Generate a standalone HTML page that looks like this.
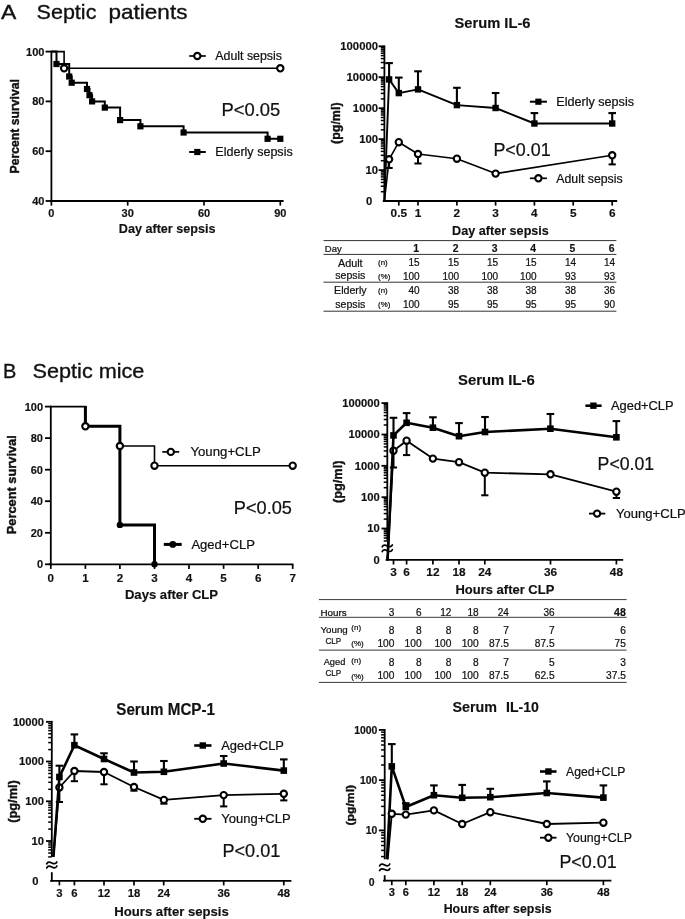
<!DOCTYPE html>
<html><head><meta charset="utf-8"><title>Figure</title>
<style>html,body{margin:0;padding:0;background:#fff}svg{display:block;will-change:transform}text{font-family:"Liberation Sans",sans-serif;fill:#111;stroke:none}</style>
</head><body>
<svg width="685" height="919" viewBox="0 0 685 919" stroke="#000" font-family="Liberation Sans, sans-serif">
<rect x="0" y="0" width="685" height="919" fill="#fff" stroke="none"/>
<text x="1.0" y="19.4" font-size="21" textLength="15.3" lengthAdjust="spacingAndGlyphs" style="stroke:#111;stroke-width:0.35px">A</text>
<text x="36.6" y="19.4" font-size="21" textLength="59.8" lengthAdjust="spacingAndGlyphs" style="stroke:#111;stroke-width:0.35px">Septic</text>
<text x="108.6" y="19.4" font-size="21" textLength="78.8" lengthAdjust="spacingAndGlyphs" style="stroke:#111;stroke-width:0.35px">patients</text>
<text x="2.9" y="378.4" font-size="21" textLength="13.3" lengthAdjust="spacingAndGlyphs" style="stroke:#111;stroke-width:0.35px">B</text>
<text x="32.6" y="378.4" font-size="21" textLength="111.8" lengthAdjust="spacingAndGlyphs" style="stroke:#111;stroke-width:0.35px">Septic mice</text>
<g id="A1">
<line x1="51.4" y1="50.8" x2="51.4" y2="201.8" stroke-width="1.8" stroke-linecap="butt"/>
<line x1="45.6" y1="51.6" x2="51.4" y2="51.6" stroke-width="1.8" stroke-linecap="butt"/>
<text x="44.4" y="55.5" font-size="11.0" font-weight="bold" style="stroke:#111;stroke-width:0.16px" text-anchor="end">100</text>
<line x1="45.6" y1="101.4" x2="51.4" y2="101.4" stroke-width="1.8" stroke-linecap="butt"/>
<text x="44.4" y="105.3" font-size="11.0" font-weight="bold" style="stroke:#111;stroke-width:0.16px" text-anchor="end">80</text>
<line x1="45.6" y1="151.2" x2="51.4" y2="151.2" stroke-width="1.8" stroke-linecap="butt"/>
<text x="44.4" y="155.1" font-size="11.0" font-weight="bold" style="stroke:#111;stroke-width:0.16px" text-anchor="end">60</text>
<line x1="45.6" y1="201.0" x2="51.4" y2="201.0" stroke-width="1.8" stroke-linecap="butt"/>
<text x="44.4" y="204.9" font-size="11.0" font-weight="bold" style="stroke:#111;stroke-width:0.16px" text-anchor="end">40</text>
<line x1="49.8" y1="201.0" x2="283.6" y2="201.0" stroke-width="1.8" stroke-linecap="butt"/>
<line x1="51.4" y1="201.0" x2="51.4" y2="205.6" stroke-width="1.7" stroke-linecap="butt"/>
<text x="51.4" y="216.8" font-size="11.0" font-weight="bold" style="stroke:#111;stroke-width:0.16px" text-anchor="middle">0</text>
<line x1="127.7" y1="201.0" x2="127.7" y2="205.6" stroke-width="1.7" stroke-linecap="butt"/>
<text x="127.7" y="216.8" font-size="11.0" font-weight="bold" style="stroke:#111;stroke-width:0.16px" text-anchor="middle">30</text>
<line x1="204.0" y1="201.0" x2="204.0" y2="205.6" stroke-width="1.7" stroke-linecap="butt"/>
<text x="204.0" y="216.8" font-size="11.0" font-weight="bold" style="stroke:#111;stroke-width:0.16px" text-anchor="middle">60</text>
<line x1="280.3" y1="201.0" x2="280.3" y2="205.6" stroke-width="1.7" stroke-linecap="butt"/>
<text x="280.3" y="216.8" font-size="11.0" font-weight="bold" style="stroke:#111;stroke-width:0.16px" text-anchor="middle">90</text>
<text x="19.0" y="126.3" font-size="12.2" font-weight="bold" style="stroke:#111;stroke-width:0.4px" text-anchor="middle" textLength="94.3" lengthAdjust="spacingAndGlyphs" transform="rotate(-90 19.0 126.3)">Percent survival</text>
<text x="118.8" y="233.2" font-size="12.7" font-weight="bold" style="stroke:#111;stroke-width:0.16px" textLength="96.7" lengthAdjust="spacingAndGlyphs">Day after sepsis</text>
<polyline points="51.4,51.6 64.1,51.6 64.1,68.3 280.3,68.3" fill="none" stroke-width="1.6" stroke-linejoin="miter"/>
<polyline points="51.4,51.6 56.5,51.6 56.5,64.0 69.2,64.0 69.2,76.5 71.7,76.5 71.7,82.7 87.0,82.7 87.0,89.0 89.5,89.0 89.5,95.2 92.1,95.2 92.1,101.4 104.8,101.4 104.8,107.6 120.1,107.6 120.1,120.1 140.4,120.1 140.4,126.3 183.6,126.3 183.6,132.5 267.6,132.5 267.6,138.8 280.3,138.8" fill="none" stroke-width="2.0" stroke-linejoin="miter"/>
<rect x="53.4" y="60.9" width="6.2" height="6.2" fill="#000" stroke="none"/>
<rect x="66.1" y="73.4" width="6.2" height="6.2" fill="#000" stroke="none"/>
<rect x="68.6" y="79.6" width="6.2" height="6.2" fill="#000" stroke="none"/>
<rect x="83.9" y="85.9" width="6.2" height="6.2" fill="#000" stroke="none"/>
<rect x="86.4" y="92.1" width="6.2" height="6.2" fill="#000" stroke="none"/>
<rect x="89.0" y="98.3" width="6.2" height="6.2" fill="#000" stroke="none"/>
<rect x="101.7" y="104.5" width="6.2" height="6.2" fill="#000" stroke="none"/>
<rect x="117.0" y="117.0" width="6.2" height="6.2" fill="#000" stroke="none"/>
<rect x="137.3" y="123.2" width="6.2" height="6.2" fill="#000" stroke="none"/>
<rect x="180.5" y="129.4" width="6.2" height="6.2" fill="#000" stroke="none"/>
<rect x="264.5" y="135.7" width="6.2" height="6.2" fill="#000" stroke="none"/>
<rect x="277.2" y="135.7" width="6.2" height="6.2" fill="#000" stroke="none"/>
<circle cx="64.1" cy="68.3" r="3.15" fill="#fff" stroke-width="2.1"/>
<circle cx="280.3" cy="68.3" r="3.15" fill="#fff" stroke-width="2.1"/>
<line x1="189.2" y1="56.0" x2="205.8" y2="56.0" stroke-width="1.7" stroke-linecap="butt"/>
<circle cx="197.3" cy="56.0" r="3.15" fill="#fff" stroke-width="2.1"/>
<text x="215.3" y="60.2" font-size="12.4" style="stroke:#111;stroke-width:0.22px" textLength="66.7" lengthAdjust="spacingAndGlyphs">Adult sepsis</text>
<line x1="189.2" y1="152.0" x2="205.8" y2="152.0" stroke-width="2.0" stroke-linecap="butt"/>
<rect x="194.2" y="148.9" width="6.2" height="6.2" fill="#000" stroke="none"/>
<text x="215.3" y="156.3" font-size="12.4" style="stroke:#111;stroke-width:0.22px" textLength="77.4" lengthAdjust="spacingAndGlyphs">Elderly sepsis</text>
<text x="221.5" y="115.6" font-size="18.2" style="stroke:#111;stroke-width:0.22px" textLength="58.8" lengthAdjust="spacingAndGlyphs">P&lt;0.05</text>
</g>
<g id="A2">
<text x="454.5" y="27.9" font-size="15.4" font-weight="bold" style="stroke:#111;stroke-width:0.16px" textLength="76.0" lengthAdjust="spacingAndGlyphs">Serum IL-6</text>
<line x1="384.4" y1="45.4" x2="384.4" y2="201.8" stroke-width="1.8" stroke-linecap="butt"/>
<line x1="378.6" y1="46.3" x2="384.4" y2="46.3" stroke-width="1.8" stroke-linecap="butt"/>
<text x="378.0" y="50.2" font-size="11.3" font-weight="bold" style="stroke:#111;stroke-width:0.16px" text-anchor="end">100000</text>
<line x1="380.8" y1="67.9" x2="384.4" y2="67.9" stroke-width="1.5" stroke-linecap="butt"/>
<line x1="380.8" y1="62.5" x2="384.4" y2="62.5" stroke-width="1.5" stroke-linecap="butt"/>
<line x1="380.8" y1="58.6" x2="384.4" y2="58.6" stroke-width="1.5" stroke-linecap="butt"/>
<line x1="380.8" y1="55.6" x2="384.4" y2="55.6" stroke-width="1.5" stroke-linecap="butt"/>
<line x1="380.8" y1="53.2" x2="384.4" y2="53.2" stroke-width="1.5" stroke-linecap="butt"/>
<line x1="380.8" y1="51.1" x2="384.4" y2="51.1" stroke-width="1.5" stroke-linecap="butt"/>
<line x1="380.8" y1="49.3" x2="384.4" y2="49.3" stroke-width="1.5" stroke-linecap="butt"/>
<line x1="380.8" y1="47.7" x2="384.4" y2="47.7" stroke-width="1.5" stroke-linecap="butt"/>
<line x1="378.6" y1="77.2" x2="384.4" y2="77.2" stroke-width="1.8" stroke-linecap="butt"/>
<text x="378.0" y="81.1" font-size="11.3" font-weight="bold" style="stroke:#111;stroke-width:0.16px" text-anchor="end">10000</text>
<line x1="380.8" y1="98.9" x2="384.4" y2="98.9" stroke-width="1.5" stroke-linecap="butt"/>
<line x1="380.8" y1="93.4" x2="384.4" y2="93.4" stroke-width="1.5" stroke-linecap="butt"/>
<line x1="380.8" y1="89.6" x2="384.4" y2="89.6" stroke-width="1.5" stroke-linecap="butt"/>
<line x1="380.8" y1="86.6" x2="384.4" y2="86.6" stroke-width="1.5" stroke-linecap="butt"/>
<line x1="380.8" y1="84.1" x2="384.4" y2="84.1" stroke-width="1.5" stroke-linecap="butt"/>
<line x1="380.8" y1="82.0" x2="384.4" y2="82.0" stroke-width="1.5" stroke-linecap="butt"/>
<line x1="380.8" y1="80.2" x2="384.4" y2="80.2" stroke-width="1.5" stroke-linecap="butt"/>
<line x1="380.8" y1="78.7" x2="384.4" y2="78.7" stroke-width="1.5" stroke-linecap="butt"/>
<line x1="378.6" y1="108.2" x2="384.4" y2="108.2" stroke-width="1.8" stroke-linecap="butt"/>
<text x="378.0" y="112.1" font-size="11.3" font-weight="bold" style="stroke:#111;stroke-width:0.16px" text-anchor="end">1000</text>
<line x1="380.8" y1="129.8" x2="384.4" y2="129.8" stroke-width="1.5" stroke-linecap="butt"/>
<line x1="380.8" y1="124.4" x2="384.4" y2="124.4" stroke-width="1.5" stroke-linecap="butt"/>
<line x1="380.8" y1="120.5" x2="384.4" y2="120.5" stroke-width="1.5" stroke-linecap="butt"/>
<line x1="380.8" y1="117.5" x2="384.4" y2="117.5" stroke-width="1.5" stroke-linecap="butt"/>
<line x1="380.8" y1="115.0" x2="384.4" y2="115.0" stroke-width="1.5" stroke-linecap="butt"/>
<line x1="380.8" y1="113.0" x2="384.4" y2="113.0" stroke-width="1.5" stroke-linecap="butt"/>
<line x1="380.8" y1="111.2" x2="384.4" y2="111.2" stroke-width="1.5" stroke-linecap="butt"/>
<line x1="380.8" y1="109.6" x2="384.4" y2="109.6" stroke-width="1.5" stroke-linecap="butt"/>
<line x1="378.6" y1="139.1" x2="384.4" y2="139.1" stroke-width="1.8" stroke-linecap="butt"/>
<text x="378.0" y="143.0" font-size="11.3" font-weight="bold" style="stroke:#111;stroke-width:0.16px" text-anchor="end">100</text>
<line x1="380.8" y1="160.7" x2="384.4" y2="160.7" stroke-width="1.5" stroke-linecap="butt"/>
<line x1="380.8" y1="155.3" x2="384.4" y2="155.3" stroke-width="1.5" stroke-linecap="butt"/>
<line x1="380.8" y1="151.4" x2="384.4" y2="151.4" stroke-width="1.5" stroke-linecap="butt"/>
<line x1="380.8" y1="148.4" x2="384.4" y2="148.4" stroke-width="1.5" stroke-linecap="butt"/>
<line x1="380.8" y1="146.0" x2="384.4" y2="146.0" stroke-width="1.5" stroke-linecap="butt"/>
<line x1="380.8" y1="143.9" x2="384.4" y2="143.9" stroke-width="1.5" stroke-linecap="butt"/>
<line x1="380.8" y1="142.1" x2="384.4" y2="142.1" stroke-width="1.5" stroke-linecap="butt"/>
<line x1="380.8" y1="140.5" x2="384.4" y2="140.5" stroke-width="1.5" stroke-linecap="butt"/>
<line x1="378.6" y1="170.1" x2="384.4" y2="170.1" stroke-width="1.8" stroke-linecap="butt"/>
<text x="378.0" y="174.0" font-size="11.3" font-weight="bold" style="stroke:#111;stroke-width:0.16px" text-anchor="end">10</text>
<line x1="380.8" y1="191.7" x2="384.4" y2="191.7" stroke-width="1.5" stroke-linecap="butt"/>
<line x1="380.8" y1="186.2" x2="384.4" y2="186.2" stroke-width="1.5" stroke-linecap="butt"/>
<line x1="380.8" y1="182.4" x2="384.4" y2="182.4" stroke-width="1.5" stroke-linecap="butt"/>
<line x1="380.8" y1="179.4" x2="384.4" y2="179.4" stroke-width="1.5" stroke-linecap="butt"/>
<line x1="380.8" y1="176.9" x2="384.4" y2="176.9" stroke-width="1.5" stroke-linecap="butt"/>
<line x1="380.8" y1="174.9" x2="384.4" y2="174.9" stroke-width="1.5" stroke-linecap="butt"/>
<line x1="380.8" y1="173.1" x2="384.4" y2="173.1" stroke-width="1.5" stroke-linecap="butt"/>
<line x1="380.8" y1="171.5" x2="384.4" y2="171.5" stroke-width="1.5" stroke-linecap="butt"/>
<text x="372.3" y="204.9" font-size="11.3" font-weight="bold" style="stroke:#111;stroke-width:0.16px" text-anchor="end">0</text>
<line x1="382.8" y1="201.0" x2="617.2" y2="201.0" stroke-width="1.8" stroke-linecap="butt"/>
<line x1="398.8" y1="201.0" x2="398.8" y2="205.6" stroke-width="1.7" stroke-linecap="butt"/>
<text x="398.8" y="216.5" font-size="11.8" font-weight="bold" style="stroke:#111;stroke-width:0.16px" text-anchor="middle">0.5</text>
<line x1="418.0" y1="201.0" x2="418.0" y2="205.6" stroke-width="1.7" stroke-linecap="butt"/>
<text x="418.0" y="216.5" font-size="11.8" font-weight="bold" style="stroke:#111;stroke-width:0.16px" text-anchor="middle">1</text>
<line x1="456.9" y1="201.0" x2="456.9" y2="205.6" stroke-width="1.7" stroke-linecap="butt"/>
<text x="456.9" y="216.5" font-size="11.8" font-weight="bold" style="stroke:#111;stroke-width:0.16px" text-anchor="middle">2</text>
<line x1="495.6" y1="201.0" x2="495.6" y2="205.6" stroke-width="1.7" stroke-linecap="butt"/>
<text x="495.6" y="216.5" font-size="11.8" font-weight="bold" style="stroke:#111;stroke-width:0.16px" text-anchor="middle">3</text>
<line x1="534.4" y1="201.0" x2="534.4" y2="205.6" stroke-width="1.7" stroke-linecap="butt"/>
<text x="534.4" y="216.5" font-size="11.8" font-weight="bold" style="stroke:#111;stroke-width:0.16px" text-anchor="middle">4</text>
<line x1="573.2" y1="201.0" x2="573.2" y2="205.6" stroke-width="1.7" stroke-linecap="butt"/>
<text x="573.2" y="216.5" font-size="11.8" font-weight="bold" style="stroke:#111;stroke-width:0.16px" text-anchor="middle">5</text>
<line x1="612.2" y1="201.0" x2="612.2" y2="205.6" stroke-width="1.7" stroke-linecap="butt"/>
<text x="612.2" y="216.5" font-size="11.8" font-weight="bold" style="stroke:#111;stroke-width:0.16px" text-anchor="middle">6</text>
<text x="340.5" y="123.2" font-size="12.4" font-weight="bold" style="stroke:#111;stroke-width:0.4px" text-anchor="middle" textLength="41.5" lengthAdjust="spacingAndGlyphs" transform="rotate(-90 340.5 123.2)">(pg/ml)</text>
<text x="452.1" y="235.0" font-size="12.6" font-weight="bold" style="stroke:#111;stroke-width:0.16px" textLength="96.8" lengthAdjust="spacingAndGlyphs">Day after sepsis</text>
<line x1="389.1" y1="159.3" x2="389.1" y2="168.0" stroke-width="2.0" stroke-linecap="butt"/>
<line x1="385.5" y1="168.0" x2="392.7" y2="168.0" stroke-width="2.0" stroke-linecap="butt"/>
<line x1="418.0" y1="154.0" x2="418.0" y2="163.5" stroke-width="2.0" stroke-linecap="butt"/>
<line x1="414.4" y1="163.5" x2="421.6" y2="163.5" stroke-width="2.0" stroke-linecap="butt"/>
<line x1="612.2" y1="155.3" x2="612.2" y2="164.4" stroke-width="2.0" stroke-linecap="butt"/>
<line x1="608.6" y1="164.4" x2="615.8" y2="164.4" stroke-width="2.0" stroke-linecap="butt"/>
<polyline points="384.4,201.0 389.1,159.3 398.8,142.2 418.0,154.0 456.9,158.7 495.6,173.6 612.2,155.3" fill="none" stroke-width="1.6" stroke-linejoin="round"/>
<circle cx="389.1" cy="159.3" r="3.15" fill="#fff" stroke-width="2.1"/>
<circle cx="398.8" cy="142.2" r="3.15" fill="#fff" stroke-width="2.1"/>
<circle cx="418.0" cy="154.0" r="3.15" fill="#fff" stroke-width="2.1"/>
<circle cx="456.9" cy="158.7" r="3.15" fill="#fff" stroke-width="2.1"/>
<circle cx="495.6" cy="173.6" r="3.15" fill="#fff" stroke-width="2.1"/>
<circle cx="612.2" cy="155.3" r="3.15" fill="#fff" stroke-width="2.1"/>
<line x1="389.1" y1="79.4" x2="389.1" y2="63.1" stroke-width="2.1" stroke-linecap="butt"/>
<line x1="385.3" y1="63.1" x2="392.9" y2="63.1" stroke-width="2.1" stroke-linecap="butt"/>
<line x1="398.8" y1="93.1" x2="398.8" y2="77.6" stroke-width="2.1" stroke-linecap="butt"/>
<line x1="395.0" y1="77.6" x2="402.6" y2="77.6" stroke-width="2.1" stroke-linecap="butt"/>
<line x1="418.0" y1="89.4" x2="418.0" y2="71.3" stroke-width="2.1" stroke-linecap="butt"/>
<line x1="414.2" y1="71.3" x2="421.8" y2="71.3" stroke-width="2.1" stroke-linecap="butt"/>
<line x1="456.9" y1="105.1" x2="456.9" y2="87.8" stroke-width="2.1" stroke-linecap="butt"/>
<line x1="453.1" y1="87.8" x2="460.7" y2="87.8" stroke-width="2.1" stroke-linecap="butt"/>
<line x1="495.6" y1="108.0" x2="495.6" y2="93.0" stroke-width="2.1" stroke-linecap="butt"/>
<line x1="491.8" y1="93.0" x2="499.4" y2="93.0" stroke-width="2.1" stroke-linecap="butt"/>
<line x1="534.4" y1="123.5" x2="534.4" y2="113.1" stroke-width="2.1" stroke-linecap="butt"/>
<line x1="530.6" y1="113.1" x2="538.2" y2="113.1" stroke-width="2.1" stroke-linecap="butt"/>
<line x1="612.2" y1="123.5" x2="612.2" y2="113.1" stroke-width="2.1" stroke-linecap="butt"/>
<line x1="608.4" y1="113.1" x2="616.0" y2="113.1" stroke-width="2.1" stroke-linecap="butt"/>
<polyline points="384.4,201.0 389.1,79.4 398.8,93.1 418.0,89.4 456.9,105.1 495.6,108.0 534.4,123.5 612.2,123.5" fill="none" stroke-width="1.9" stroke-linejoin="round"/>
<rect x="385.9" y="76.2" width="6.4" height="6.4" fill="#000" stroke="none"/>
<rect x="395.6" y="89.9" width="6.4" height="6.4" fill="#000" stroke="none"/>
<rect x="414.8" y="86.2" width="6.4" height="6.4" fill="#000" stroke="none"/>
<rect x="453.7" y="101.9" width="6.4" height="6.4" fill="#000" stroke="none"/>
<rect x="492.4" y="104.8" width="6.4" height="6.4" fill="#000" stroke="none"/>
<rect x="531.2" y="120.3" width="6.4" height="6.4" fill="#000" stroke="none"/>
<rect x="609.0" y="120.3" width="6.4" height="6.4" fill="#000" stroke="none"/>
<line x1="529.9" y1="101.7" x2="546.9" y2="101.7" stroke-width="2.0" stroke-linecap="butt"/>
<rect x="535.3" y="98.6" width="6.2" height="6.2" fill="#000" stroke="none"/>
<text x="556.3" y="106.0" font-size="12.4" style="stroke:#111;stroke-width:0.22px" textLength="77.7" lengthAdjust="spacingAndGlyphs">Elderly sepsis</text>
<line x1="529.9" y1="178.3" x2="546.9" y2="178.3" stroke-width="1.7" stroke-linecap="butt"/>
<circle cx="538.4" cy="178.3" r="3.15" fill="#fff" stroke-width="2.1"/>
<text x="556.3" y="182.6" font-size="12.4" style="stroke:#111;stroke-width:0.22px" textLength="66.3" lengthAdjust="spacingAndGlyphs">Adult sepsis</text>
<text x="493.4" y="155.5" font-size="18.2" style="stroke:#111;stroke-width:0.22px" textLength="57.2" lengthAdjust="spacingAndGlyphs">P&lt;0.01</text>
</g>
<g id="TA">
<line x1="323.5" y1="240.6" x2="616.4" y2="240.6" stroke="#333" stroke-width="1.0"/>
<line x1="323.5" y1="254.4" x2="616.4" y2="254.4" stroke="#333" stroke-width="1.0"/>
<line x1="323.5" y1="282.2" x2="616.4" y2="282.2" stroke="#333" stroke-width="1.0"/>
<line x1="323.5" y1="311.2" x2="616.4" y2="311.2" stroke="#333" stroke-width="1.0"/>
<text x="324.8" y="251.6" font-size="9.2" style="stroke:#111;stroke-width:0.22px" textLength="16.9" lengthAdjust="spacingAndGlyphs">Day</text>
<text x="419.0" y="251.6" font-size="10.4" font-weight="bold" style="stroke:#111;stroke-width:0.16px" text-anchor="end">1</text>
<text x="458.6" y="251.6" font-size="10.4" font-weight="bold" style="stroke:#111;stroke-width:0.16px" text-anchor="end">2</text>
<text x="497.5" y="251.6" font-size="10.4" font-weight="bold" style="stroke:#111;stroke-width:0.16px" text-anchor="end">3</text>
<text x="536.0" y="251.6" font-size="10.4" font-weight="bold" style="stroke:#111;stroke-width:0.16px" text-anchor="end">4</text>
<text x="575.4" y="251.6" font-size="10.4" font-weight="bold" style="stroke:#111;stroke-width:0.16px" text-anchor="end">5</text>
<text x="614.5" y="251.6" font-size="10.4" font-weight="bold" style="stroke:#111;stroke-width:0.16px" text-anchor="end">6</text>
<text x="419.6" y="266.4" font-size="10.0" style="stroke:#111;stroke-width:0.22px" text-anchor="end">15</text>
<text x="459.2" y="266.4" font-size="10.0" style="stroke:#111;stroke-width:0.22px" text-anchor="end">15</text>
<text x="498.1" y="266.4" font-size="10.0" style="stroke:#111;stroke-width:0.22px" text-anchor="end">15</text>
<text x="536.6" y="266.4" font-size="10.0" style="stroke:#111;stroke-width:0.22px" text-anchor="end">15</text>
<text x="576.0" y="266.4" font-size="10.0" style="stroke:#111;stroke-width:0.22px" text-anchor="end">14</text>
<text x="615.1" y="266.4" font-size="10.0" style="stroke:#111;stroke-width:0.22px" text-anchor="end">14</text>
<text x="419.6" y="279.7" font-size="10.0" style="stroke:#111;stroke-width:0.22px" text-anchor="end">100</text>
<text x="459.2" y="279.7" font-size="10.0" style="stroke:#111;stroke-width:0.22px" text-anchor="end">100</text>
<text x="498.1" y="279.7" font-size="10.0" style="stroke:#111;stroke-width:0.22px" text-anchor="end">100</text>
<text x="536.6" y="279.7" font-size="10.0" style="stroke:#111;stroke-width:0.22px" text-anchor="end">100</text>
<text x="576.0" y="279.7" font-size="10.0" style="stroke:#111;stroke-width:0.22px" text-anchor="end">93</text>
<text x="615.1" y="279.7" font-size="10.0" style="stroke:#111;stroke-width:0.22px" text-anchor="end">93</text>
<text x="419.6" y="294.4" font-size="10.0" style="stroke:#111;stroke-width:0.22px" text-anchor="end">40</text>
<text x="459.2" y="294.4" font-size="10.0" style="stroke:#111;stroke-width:0.22px" text-anchor="end">38</text>
<text x="498.1" y="294.4" font-size="10.0" style="stroke:#111;stroke-width:0.22px" text-anchor="end">38</text>
<text x="536.6" y="294.4" font-size="10.0" style="stroke:#111;stroke-width:0.22px" text-anchor="end">38</text>
<text x="576.0" y="294.4" font-size="10.0" style="stroke:#111;stroke-width:0.22px" text-anchor="end">38</text>
<text x="615.1" y="294.4" font-size="10.0" style="stroke:#111;stroke-width:0.22px" text-anchor="end">36</text>
<text x="419.6" y="307.8" font-size="10.0" style="stroke:#111;stroke-width:0.22px" text-anchor="end">100</text>
<text x="459.2" y="307.8" font-size="10.0" style="stroke:#111;stroke-width:0.22px" text-anchor="end">95</text>
<text x="498.1" y="307.8" font-size="10.0" style="stroke:#111;stroke-width:0.22px" text-anchor="end">95</text>
<text x="536.6" y="307.8" font-size="10.0" style="stroke:#111;stroke-width:0.22px" text-anchor="end">95</text>
<text x="576.0" y="307.8" font-size="10.0" style="stroke:#111;stroke-width:0.22px" text-anchor="end">95</text>
<text x="615.1" y="307.8" font-size="10.0" style="stroke:#111;stroke-width:0.22px" text-anchor="end">90</text>
<text x="338.0" y="266.9" font-size="10.6" style="stroke:#111;stroke-width:0.22px" textLength="24.6" lengthAdjust="spacingAndGlyphs">Adult</text>
<text x="335.3" y="279.4" font-size="10.6" style="stroke:#111;stroke-width:0.22px" textLength="30.0" lengthAdjust="spacingAndGlyphs">sepsis</text>
<text x="334.1" y="294.4" font-size="10.6" style="stroke:#111;stroke-width:0.22px" textLength="32.5" lengthAdjust="spacingAndGlyphs">Elderly</text>
<text x="335.3" y="307.9" font-size="10.6" style="stroke:#111;stroke-width:0.22px" textLength="30.0" lengthAdjust="spacingAndGlyphs">sepsis</text>
<text x="378.1" y="265.1" font-size="7.9" style="stroke:#111;stroke-width:0.22px">(n)</text>
<text x="378.1" y="278.9" font-size="7.9" style="stroke:#111;stroke-width:0.22px">(%)</text>
<text x="378.1" y="293.1" font-size="7.9" style="stroke:#111;stroke-width:0.22px">(n)</text>
<text x="378.1" y="307.1" font-size="7.9" style="stroke:#111;stroke-width:0.22px">(%)</text>
</g>
<g id="B1">
<line x1="50.8" y1="405.8" x2="50.8" y2="565.1" stroke-width="1.8" stroke-linecap="butt"/>
<line x1="45.0" y1="406.6" x2="50.8" y2="406.6" stroke-width="1.8" stroke-linecap="butt"/>
<text x="43.0" y="410.5" font-size="11.0" font-weight="bold" style="stroke:#111;stroke-width:0.16px" text-anchor="end">100</text>
<line x1="45.0" y1="438.1" x2="50.8" y2="438.1" stroke-width="1.8" stroke-linecap="butt"/>
<text x="43.0" y="442.0" font-size="11.0" font-weight="bold" style="stroke:#111;stroke-width:0.16px" text-anchor="end">80</text>
<line x1="45.0" y1="469.7" x2="50.8" y2="469.7" stroke-width="1.8" stroke-linecap="butt"/>
<text x="43.0" y="473.6" font-size="11.0" font-weight="bold" style="stroke:#111;stroke-width:0.16px" text-anchor="end">60</text>
<line x1="45.0" y1="501.2" x2="50.8" y2="501.2" stroke-width="1.8" stroke-linecap="butt"/>
<text x="43.0" y="505.1" font-size="11.0" font-weight="bold" style="stroke:#111;stroke-width:0.16px" text-anchor="end">40</text>
<line x1="45.0" y1="532.8" x2="50.8" y2="532.8" stroke-width="1.8" stroke-linecap="butt"/>
<text x="43.0" y="536.7" font-size="11.0" font-weight="bold" style="stroke:#111;stroke-width:0.16px" text-anchor="end">20</text>
<line x1="45.0" y1="564.3" x2="50.8" y2="564.3" stroke-width="1.8" stroke-linecap="butt"/>
<text x="43.0" y="568.2" font-size="11.0" font-weight="bold" style="stroke:#111;stroke-width:0.16px" text-anchor="end">0</text>
<line x1="49.2" y1="564.3" x2="293.4" y2="564.3" stroke-width="1.8" stroke-linecap="butt"/>
<line x1="50.8" y1="564.3" x2="50.8" y2="568.9" stroke-width="1.7" stroke-linecap="butt"/>
<text x="50.8" y="581.5" font-size="11.6" font-weight="bold" style="stroke:#111;stroke-width:0.16px" text-anchor="middle">0</text>
<line x1="85.4" y1="564.3" x2="85.4" y2="568.9" stroke-width="1.7" stroke-linecap="butt"/>
<text x="85.4" y="581.5" font-size="11.6" font-weight="bold" style="stroke:#111;stroke-width:0.16px" text-anchor="middle">1</text>
<line x1="119.9" y1="564.3" x2="119.9" y2="568.9" stroke-width="1.7" stroke-linecap="butt"/>
<text x="119.9" y="581.5" font-size="11.6" font-weight="bold" style="stroke:#111;stroke-width:0.16px" text-anchor="middle">2</text>
<line x1="154.5" y1="564.3" x2="154.5" y2="568.9" stroke-width="1.7" stroke-linecap="butt"/>
<text x="154.5" y="581.5" font-size="11.6" font-weight="bold" style="stroke:#111;stroke-width:0.16px" text-anchor="middle">3</text>
<line x1="189.0" y1="564.3" x2="189.0" y2="568.9" stroke-width="1.7" stroke-linecap="butt"/>
<text x="189.0" y="581.5" font-size="11.6" font-weight="bold" style="stroke:#111;stroke-width:0.16px" text-anchor="middle">4</text>
<line x1="223.6" y1="564.3" x2="223.6" y2="568.9" stroke-width="1.7" stroke-linecap="butt"/>
<text x="223.6" y="581.5" font-size="11.6" font-weight="bold" style="stroke:#111;stroke-width:0.16px" text-anchor="middle">5</text>
<line x1="258.2" y1="564.3" x2="258.2" y2="568.9" stroke-width="1.7" stroke-linecap="butt"/>
<text x="258.2" y="581.5" font-size="11.6" font-weight="bold" style="stroke:#111;stroke-width:0.16px" text-anchor="middle">6</text>
<line x1="292.7" y1="564.3" x2="292.7" y2="568.9" stroke-width="1.7" stroke-linecap="butt"/>
<text x="292.7" y="581.5" font-size="11.6" font-weight="bold" style="stroke:#111;stroke-width:0.16px" text-anchor="middle">7</text>
<text x="15.6" y="484.7" font-size="12.2" font-weight="bold" style="stroke:#111;stroke-width:0.4px" text-anchor="middle" textLength="99.0" lengthAdjust="spacingAndGlyphs" transform="rotate(-90 15.6 484.7)">Percent survival</text>
<text x="124.9" y="599.0" font-size="12.7" font-weight="bold" style="stroke:#111;stroke-width:0.16px" textLength="93.2" lengthAdjust="spacingAndGlyphs">Days after CLP</text>
<polyline points="50.8,406.6 85.4,406.6 85.4,426.3 119.9,426.3 119.9,446.0 154.5,446.0 154.5,465.7 292.7,465.7" fill="none" stroke-width="1.6" stroke-linejoin="miter"/>
<polyline points="85.4,405.9 85.4,426.3 119.9,426.3 119.9,524.9 154.5,524.9 154.5,564.3" fill="none" stroke-width="3.0" stroke-linejoin="miter"/>
<circle cx="119.9" cy="524.9" r="3.2" fill="#000" stroke="none"/>
<circle cx="154.5" cy="564.3" r="3.2" fill="#000" stroke="none"/>
<circle cx="85.4" cy="426.3" r="3.15" fill="#fff" stroke-width="2.1"/>
<circle cx="119.9" cy="446.0" r="3.15" fill="#fff" stroke-width="2.1"/>
<circle cx="154.5" cy="465.7" r="3.15" fill="#fff" stroke-width="2.1"/>
<circle cx="292.7" cy="465.7" r="3.15" fill="#fff" stroke-width="2.1"/>
<line x1="162.3" y1="451.9" x2="179.2" y2="451.9" stroke-width="1.7" stroke-linecap="butt"/>
<circle cx="170.8" cy="451.9" r="3.15" fill="#fff" stroke-width="2.1"/>
<text x="190.4" y="455.6" font-size="13" style="stroke:#111;stroke-width:0.22px" textLength="70.4" lengthAdjust="spacingAndGlyphs">Young+CLP</text>
<line x1="163.8" y1="544.4" x2="181.7" y2="544.4" stroke-width="3.0" stroke-linecap="butt"/>
<circle cx="172.8" cy="544.4" r="3.4" fill="#000" stroke="none"/>
<text x="191.4" y="549.0" font-size="13" style="stroke:#111;stroke-width:0.22px" textLength="63.5" lengthAdjust="spacingAndGlyphs">Aged+CLP</text>
<text x="233.8" y="513.6" font-size="18.2" style="stroke:#111;stroke-width:0.22px" textLength="58.1" lengthAdjust="spacingAndGlyphs">P&lt;0.05</text>
</g>
<g id="B2">
<text x="458.0" y="385.4" font-size="15.4" font-weight="bold" style="stroke:#111;stroke-width:0.16px" textLength="76.8" lengthAdjust="spacingAndGlyphs">Serum IL-6</text>
<line x1="387.3" y1="402.2" x2="387.3" y2="540.2" stroke-width="1.8" stroke-linecap="butt"/>
<line x1="387.3" y1="555.6" x2="387.3" y2="560.8" stroke-width="1.8" stroke-linecap="butt"/>
<path d="M382.2,546.8 C383.4,544.4 385.6,545.0 387.3,545.9 S391.2,547.5 392.4,544.9" fill="none" stroke-width="1.7" stroke-linecap="round"/>
<path d="M382.2,551.6 C383.4,549.2 385.6,549.8 387.3,550.7 S391.2,552.3 392.4,549.7" fill="none" stroke-width="1.7" stroke-linecap="round"/>
<line x1="381.5" y1="403.1" x2="387.3" y2="403.1" stroke-width="1.8" stroke-linecap="butt"/>
<text x="379.7" y="407.0" font-size="11.2" font-weight="bold" style="stroke:#111;stroke-width:0.16px" text-anchor="end">100000</text>
<line x1="383.7" y1="425.0" x2="387.3" y2="425.0" stroke-width="1.5" stroke-linecap="butt"/>
<line x1="383.7" y1="419.5" x2="387.3" y2="419.5" stroke-width="1.5" stroke-linecap="butt"/>
<line x1="383.7" y1="415.6" x2="387.3" y2="415.6" stroke-width="1.5" stroke-linecap="butt"/>
<line x1="383.7" y1="412.5" x2="387.3" y2="412.5" stroke-width="1.5" stroke-linecap="butt"/>
<line x1="383.7" y1="410.1" x2="387.3" y2="410.1" stroke-width="1.5" stroke-linecap="butt"/>
<line x1="383.7" y1="408.0" x2="387.3" y2="408.0" stroke-width="1.5" stroke-linecap="butt"/>
<line x1="383.7" y1="406.1" x2="387.3" y2="406.1" stroke-width="1.5" stroke-linecap="butt"/>
<line x1="383.7" y1="404.5" x2="387.3" y2="404.5" stroke-width="1.5" stroke-linecap="butt"/>
<line x1="381.5" y1="434.5" x2="387.3" y2="434.5" stroke-width="1.8" stroke-linecap="butt"/>
<text x="379.7" y="438.3" font-size="11.2" font-weight="bold" style="stroke:#111;stroke-width:0.16px" text-anchor="end">10000</text>
<line x1="383.7" y1="456.4" x2="387.3" y2="456.4" stroke-width="1.5" stroke-linecap="butt"/>
<line x1="383.7" y1="450.9" x2="387.3" y2="450.9" stroke-width="1.5" stroke-linecap="butt"/>
<line x1="383.7" y1="446.9" x2="387.3" y2="446.9" stroke-width="1.5" stroke-linecap="butt"/>
<line x1="383.7" y1="443.9" x2="387.3" y2="443.9" stroke-width="1.5" stroke-linecap="butt"/>
<line x1="383.7" y1="441.4" x2="387.3" y2="441.4" stroke-width="1.5" stroke-linecap="butt"/>
<line x1="383.7" y1="439.3" x2="387.3" y2="439.3" stroke-width="1.5" stroke-linecap="butt"/>
<line x1="383.7" y1="437.5" x2="387.3" y2="437.5" stroke-width="1.5" stroke-linecap="butt"/>
<line x1="383.7" y1="435.9" x2="387.3" y2="435.9" stroke-width="1.5" stroke-linecap="butt"/>
<line x1="381.5" y1="465.8" x2="387.3" y2="465.8" stroke-width="1.8" stroke-linecap="butt"/>
<text x="379.7" y="469.7" font-size="11.2" font-weight="bold" style="stroke:#111;stroke-width:0.16px" text-anchor="end">1000</text>
<line x1="383.7" y1="487.7" x2="387.3" y2="487.7" stroke-width="1.5" stroke-linecap="butt"/>
<line x1="383.7" y1="482.2" x2="387.3" y2="482.2" stroke-width="1.5" stroke-linecap="butt"/>
<line x1="383.7" y1="478.3" x2="387.3" y2="478.3" stroke-width="1.5" stroke-linecap="butt"/>
<line x1="383.7" y1="475.3" x2="387.3" y2="475.3" stroke-width="1.5" stroke-linecap="butt"/>
<line x1="383.7" y1="472.8" x2="387.3" y2="472.8" stroke-width="1.5" stroke-linecap="butt"/>
<line x1="383.7" y1="470.7" x2="387.3" y2="470.7" stroke-width="1.5" stroke-linecap="butt"/>
<line x1="383.7" y1="468.9" x2="387.3" y2="468.9" stroke-width="1.5" stroke-linecap="butt"/>
<line x1="383.7" y1="467.3" x2="387.3" y2="467.3" stroke-width="1.5" stroke-linecap="butt"/>
<line x1="381.5" y1="497.2" x2="387.3" y2="497.2" stroke-width="1.8" stroke-linecap="butt"/>
<text x="379.7" y="501.0" font-size="11.2" font-weight="bold" style="stroke:#111;stroke-width:0.16px" text-anchor="end">100</text>
<line x1="383.7" y1="519.1" x2="387.3" y2="519.1" stroke-width="1.5" stroke-linecap="butt"/>
<line x1="383.7" y1="513.6" x2="387.3" y2="513.6" stroke-width="1.5" stroke-linecap="butt"/>
<line x1="383.7" y1="509.7" x2="387.3" y2="509.7" stroke-width="1.5" stroke-linecap="butt"/>
<line x1="383.7" y1="506.6" x2="387.3" y2="506.6" stroke-width="1.5" stroke-linecap="butt"/>
<line x1="383.7" y1="504.1" x2="387.3" y2="504.1" stroke-width="1.5" stroke-linecap="butt"/>
<line x1="383.7" y1="502.0" x2="387.3" y2="502.0" stroke-width="1.5" stroke-linecap="butt"/>
<line x1="383.7" y1="500.2" x2="387.3" y2="500.2" stroke-width="1.5" stroke-linecap="butt"/>
<line x1="383.7" y1="498.6" x2="387.3" y2="498.6" stroke-width="1.5" stroke-linecap="butt"/>
<line x1="381.5" y1="528.5" x2="387.3" y2="528.5" stroke-width="1.8" stroke-linecap="butt"/>
<text x="379.7" y="532.4" font-size="11.2" font-weight="bold" style="stroke:#111;stroke-width:0.16px" text-anchor="end">10</text>
<line x1="383.7" y1="541.0" x2="387.3" y2="541.0" stroke-width="1.5" stroke-linecap="butt"/>
<line x1="383.7" y1="538.0" x2="387.3" y2="538.0" stroke-width="1.5" stroke-linecap="butt"/>
<line x1="383.7" y1="535.5" x2="387.3" y2="535.5" stroke-width="1.5" stroke-linecap="butt"/>
<line x1="383.7" y1="533.4" x2="387.3" y2="533.4" stroke-width="1.5" stroke-linecap="butt"/>
<line x1="383.7" y1="531.6" x2="387.3" y2="531.6" stroke-width="1.5" stroke-linecap="butt"/>
<line x1="383.7" y1="530.0" x2="387.3" y2="530.0" stroke-width="1.5" stroke-linecap="butt"/>
<text x="379.7" y="563.8" font-size="11.2" font-weight="bold" style="stroke:#111;stroke-width:0.16px" text-anchor="end">0</text>
<line x1="385.7" y1="559.9" x2="623.2" y2="559.9" stroke-width="1.8" stroke-linecap="butt"/>
<line x1="393.5" y1="559.9" x2="393.5" y2="564.5" stroke-width="1.7" stroke-linecap="butt"/>
<text x="393.5" y="576.2" font-size="11.8" font-weight="bold" style="stroke:#111;stroke-width:0.16px" text-anchor="middle">3</text>
<line x1="406.6" y1="559.9" x2="406.6" y2="564.5" stroke-width="1.7" stroke-linecap="butt"/>
<text x="406.6" y="576.2" font-size="11.8" font-weight="bold" style="stroke:#111;stroke-width:0.16px" text-anchor="middle">6</text>
<line x1="432.9" y1="559.9" x2="432.9" y2="564.5" stroke-width="1.7" stroke-linecap="butt"/>
<text x="432.9" y="576.2" font-size="11.8" font-weight="bold" style="stroke:#111;stroke-width:0.16px" text-anchor="middle">12</text>
<line x1="459.0" y1="559.9" x2="459.0" y2="564.5" stroke-width="1.7" stroke-linecap="butt"/>
<text x="459.0" y="576.2" font-size="11.8" font-weight="bold" style="stroke:#111;stroke-width:0.16px" text-anchor="middle">18</text>
<line x1="484.8" y1="559.9" x2="484.8" y2="564.5" stroke-width="1.7" stroke-linecap="butt"/>
<text x="484.8" y="576.2" font-size="11.8" font-weight="bold" style="stroke:#111;stroke-width:0.16px" text-anchor="middle">24</text>
<line x1="550.5" y1="559.9" x2="550.5" y2="564.5" stroke-width="1.7" stroke-linecap="butt"/>
<text x="550.5" y="576.2" font-size="11.8" font-weight="bold" style="stroke:#111;stroke-width:0.16px" text-anchor="middle">36</text>
<line x1="616.4" y1="559.9" x2="616.4" y2="564.5" stroke-width="1.7" stroke-linecap="butt"/>
<text x="616.4" y="576.2" font-size="11.8" font-weight="bold" style="stroke:#111;stroke-width:0.16px" text-anchor="middle">48</text>
<text x="341.8" y="481.8" font-size="12.4" font-weight="bold" style="stroke:#111;stroke-width:0.4px" text-anchor="middle" textLength="42.5" lengthAdjust="spacingAndGlyphs" transform="rotate(-90 341.8 481.8)">(pg/ml)</text>
<text x="455.5" y="593.8" font-size="12.6" font-weight="bold" style="stroke:#111;stroke-width:0.16px" textLength="98.8" lengthAdjust="spacingAndGlyphs">Hours after CLP</text>
<line x1="393.5" y1="450.7" x2="393.5" y2="467.5" stroke-width="2.0" stroke-linecap="butt"/>
<line x1="389.9" y1="467.5" x2="397.1" y2="467.5" stroke-width="2.0" stroke-linecap="butt"/>
<line x1="406.6" y1="440.7" x2="406.6" y2="455.1" stroke-width="2.0" stroke-linecap="butt"/>
<line x1="403.0" y1="455.1" x2="410.2" y2="455.1" stroke-width="2.0" stroke-linecap="butt"/>
<line x1="484.8" y1="472.7" x2="484.8" y2="495.3" stroke-width="2.0" stroke-linecap="butt"/>
<line x1="481.2" y1="495.3" x2="488.4" y2="495.3" stroke-width="2.0" stroke-linecap="butt"/>
<line x1="616.4" y1="491.7" x2="616.4" y2="498.0" stroke-width="2.0" stroke-linecap="butt"/>
<line x1="612.8" y1="498.0" x2="620.0" y2="498.0" stroke-width="2.0" stroke-linecap="butt"/>
<polyline points="387.6,559.0 393.5,450.7 406.6,440.7 432.9,458.6 459.0,462.2 484.8,472.7 550.5,474.3 616.4,491.7" fill="none" stroke-width="1.8" stroke-linejoin="round"/>
<circle cx="393.5" cy="450.7" r="3.15" fill="#fff" stroke-width="2.1"/>
<circle cx="406.6" cy="440.7" r="3.15" fill="#fff" stroke-width="2.1"/>
<circle cx="432.9" cy="458.6" r="3.15" fill="#fff" stroke-width="2.1"/>
<circle cx="459.0" cy="462.2" r="3.15" fill="#fff" stroke-width="2.1"/>
<circle cx="484.8" cy="472.7" r="3.15" fill="#fff" stroke-width="2.1"/>
<circle cx="550.5" cy="474.3" r="3.15" fill="#fff" stroke-width="2.1"/>
<circle cx="616.4" cy="491.7" r="3.15" fill="#fff" stroke-width="2.1"/>
<line x1="393.5" y1="435.4" x2="393.5" y2="417.8" stroke-width="2.1" stroke-linecap="butt"/>
<line x1="389.7" y1="417.8" x2="397.3" y2="417.8" stroke-width="2.1" stroke-linecap="butt"/>
<line x1="406.6" y1="422.8" x2="406.6" y2="413.1" stroke-width="2.1" stroke-linecap="butt"/>
<line x1="402.8" y1="413.1" x2="410.4" y2="413.1" stroke-width="2.1" stroke-linecap="butt"/>
<line x1="432.9" y1="427.7" x2="432.9" y2="417.3" stroke-width="2.1" stroke-linecap="butt"/>
<line x1="429.1" y1="417.3" x2="436.7" y2="417.3" stroke-width="2.1" stroke-linecap="butt"/>
<line x1="459.0" y1="436.2" x2="459.0" y2="423.1" stroke-width="2.1" stroke-linecap="butt"/>
<line x1="455.2" y1="423.1" x2="462.8" y2="423.1" stroke-width="2.1" stroke-linecap="butt"/>
<line x1="485.0" y1="432.0" x2="485.0" y2="417.0" stroke-width="2.1" stroke-linecap="butt"/>
<line x1="481.2" y1="417.0" x2="488.8" y2="417.0" stroke-width="2.1" stroke-linecap="butt"/>
<line x1="550.4" y1="428.7" x2="550.4" y2="414.0" stroke-width="2.1" stroke-linecap="butt"/>
<line x1="546.6" y1="414.0" x2="554.2" y2="414.0" stroke-width="2.1" stroke-linecap="butt"/>
<line x1="616.4" y1="437.3" x2="616.4" y2="421.1" stroke-width="2.1" stroke-linecap="butt"/>
<line x1="612.6" y1="421.1" x2="620.2" y2="421.1" stroke-width="2.1" stroke-linecap="butt"/>
<polyline points="387.6,559.0 393.5,435.4 406.6,422.8 432.9,427.7 459.0,436.2 485.0,432.0 550.4,428.7 616.4,437.3" fill="none" stroke-width="2.6" stroke-linejoin="round"/>
<rect x="390.2" y="432.1" width="6.6" height="6.6" fill="#000" stroke="none"/>
<rect x="403.3" y="419.5" width="6.6" height="6.6" fill="#000" stroke="none"/>
<rect x="429.6" y="424.4" width="6.6" height="6.6" fill="#000" stroke="none"/>
<rect x="455.7" y="432.9" width="6.6" height="6.6" fill="#000" stroke="none"/>
<rect x="481.7" y="428.7" width="6.6" height="6.6" fill="#000" stroke="none"/>
<rect x="547.1" y="425.4" width="6.6" height="6.6" fill="#000" stroke="none"/>
<rect x="613.1" y="434.0" width="6.6" height="6.6" fill="#000" stroke="none"/>
<line x1="585.4" y1="405.7" x2="601.6" y2="405.7" stroke-width="2.6" stroke-linecap="butt"/>
<rect x="590.2" y="402.5" width="6.4" height="6.4" fill="#000" stroke="none"/>
<text x="611.0" y="410.2" font-size="13" style="stroke:#111;stroke-width:0.22px" textLength="62.6" lengthAdjust="spacingAndGlyphs">Aged+CLP</text>
<line x1="589.0" y1="513.6" x2="605.3" y2="513.6" stroke-width="1.8" stroke-linecap="butt"/>
<circle cx="597.1" cy="513.6" r="3.15" fill="#fff" stroke-width="2.1"/>
<text x="616.1" y="518.2" font-size="13" style="stroke:#111;stroke-width:0.22px" textLength="69.5" lengthAdjust="spacingAndGlyphs">Young+CLP</text>
<text x="597.6" y="470.0" font-size="18.2" style="stroke:#111;stroke-width:0.22px" textLength="56.6" lengthAdjust="spacingAndGlyphs">P&lt;0.01</text>
</g>
<g id="TB">
<line x1="318.9" y1="599.6" x2="626.6" y2="599.6" stroke="#383838" stroke-width="1.0"/>
<line x1="318.9" y1="617.3" x2="626.6" y2="617.3" stroke="#383838" stroke-width="1.0"/>
<line x1="318.9" y1="650.1" x2="626.6" y2="650.1" stroke="#383838" stroke-width="1.0"/>
<line x1="318.9" y1="682.4" x2="626.6" y2="682.4" stroke="#383838" stroke-width="1.0"/>
<text x="320.5" y="615.8" font-size="9.6" style="stroke:#111;stroke-width:0.22px" textLength="26.3" lengthAdjust="spacingAndGlyphs">Hours</text>
<text x="394.4" y="615.6" font-size="10.0" style="stroke:#111;stroke-width:0.22px" text-anchor="end">3</text>
<text x="421.6" y="615.6" font-size="10.0" style="stroke:#111;stroke-width:0.22px" text-anchor="end">6</text>
<text x="451.4" y="615.6" font-size="10.0" style="stroke:#111;stroke-width:0.22px" text-anchor="end">12</text>
<text x="478.7" y="615.6" font-size="10.0" style="stroke:#111;stroke-width:0.22px" text-anchor="end">18</text>
<text x="508.8" y="615.6" font-size="10.0" style="stroke:#111;stroke-width:0.22px" text-anchor="end">24</text>
<text x="554.6" y="615.6" font-size="10.0" style="stroke:#111;stroke-width:0.22px" text-anchor="end">36</text>
<text x="625.9" y="615.6" font-size="10.6" font-weight="bold" style="stroke:#111;stroke-width:0.16px" text-anchor="end">48</text>
<text x="394.4" y="633.6" font-size="10.2" style="stroke:#111;stroke-width:0.22px" text-anchor="end">8</text>
<text x="421.6" y="633.6" font-size="10.2" style="stroke:#111;stroke-width:0.22px" text-anchor="end">8</text>
<text x="451.4" y="633.6" font-size="10.2" style="stroke:#111;stroke-width:0.22px" text-anchor="end">8</text>
<text x="478.7" y="633.6" font-size="10.2" style="stroke:#111;stroke-width:0.22px" text-anchor="end">8</text>
<text x="508.8" y="633.6" font-size="10.2" style="stroke:#111;stroke-width:0.22px" text-anchor="end">7</text>
<text x="554.6" y="633.6" font-size="10.2" style="stroke:#111;stroke-width:0.22px" text-anchor="end">7</text>
<text x="625.9" y="633.6" font-size="10.2" style="stroke:#111;stroke-width:0.22px" text-anchor="end">6</text>
<text x="394.4" y="646.8" font-size="10.2" style="stroke:#111;stroke-width:0.22px" text-anchor="end">100</text>
<text x="421.6" y="646.8" font-size="10.2" style="stroke:#111;stroke-width:0.22px" text-anchor="end">100</text>
<text x="451.4" y="646.8" font-size="10.2" style="stroke:#111;stroke-width:0.22px" text-anchor="end">100</text>
<text x="478.7" y="646.8" font-size="10.2" style="stroke:#111;stroke-width:0.22px" text-anchor="end">100</text>
<text x="508.8" y="646.8" font-size="10.2" style="stroke:#111;stroke-width:0.22px" text-anchor="end">87.5</text>
<text x="554.6" y="646.8" font-size="10.2" style="stroke:#111;stroke-width:0.22px" text-anchor="end">87.5</text>
<text x="625.9" y="646.8" font-size="10.2" style="stroke:#111;stroke-width:0.22px" text-anchor="end">75</text>
<text x="394.4" y="665.6" font-size="10.2" style="stroke:#111;stroke-width:0.22px" text-anchor="end">8</text>
<text x="421.6" y="665.6" font-size="10.2" style="stroke:#111;stroke-width:0.22px" text-anchor="end">8</text>
<text x="451.4" y="665.6" font-size="10.2" style="stroke:#111;stroke-width:0.22px" text-anchor="end">8</text>
<text x="478.7" y="665.6" font-size="10.2" style="stroke:#111;stroke-width:0.22px" text-anchor="end">8</text>
<text x="508.8" y="665.6" font-size="10.2" style="stroke:#111;stroke-width:0.22px" text-anchor="end">7</text>
<text x="554.6" y="665.6" font-size="10.2" style="stroke:#111;stroke-width:0.22px" text-anchor="end">5</text>
<text x="625.9" y="665.6" font-size="10.2" style="stroke:#111;stroke-width:0.22px" text-anchor="end">3</text>
<text x="394.4" y="679.0" font-size="10.2" style="stroke:#111;stroke-width:0.22px" text-anchor="end">100</text>
<text x="421.6" y="679.0" font-size="10.2" style="stroke:#111;stroke-width:0.22px" text-anchor="end">100</text>
<text x="451.4" y="679.0" font-size="10.2" style="stroke:#111;stroke-width:0.22px" text-anchor="end">100</text>
<text x="478.7" y="679.0" font-size="10.2" style="stroke:#111;stroke-width:0.22px" text-anchor="end">100</text>
<text x="508.8" y="679.0" font-size="10.2" style="stroke:#111;stroke-width:0.22px" text-anchor="end">87.5</text>
<text x="554.6" y="679.0" font-size="10.2" style="stroke:#111;stroke-width:0.22px" text-anchor="end">62.5</text>
<text x="625.9" y="679.0" font-size="10.2" style="stroke:#111;stroke-width:0.22px" text-anchor="end">37.5</text>
<text x="320.5" y="632.6" font-size="9.5" style="stroke:#111;stroke-width:0.22px" textLength="27.3" lengthAdjust="spacingAndGlyphs">Young</text>
<text x="325.4" y="643.5" font-size="9.5" style="stroke:#111;stroke-width:0.22px" textLength="15.8" lengthAdjust="spacingAndGlyphs">CLP</text>
<text x="323.7" y="664.5" font-size="9.5" style="stroke:#111;stroke-width:0.22px" textLength="21.6" lengthAdjust="spacingAndGlyphs">Aged</text>
<text x="325.4" y="675.6" font-size="9.5" style="stroke:#111;stroke-width:0.22px" textLength="15.8" lengthAdjust="spacingAndGlyphs">CLP</text>
<text x="351.3" y="630.4" font-size="8.0" style="stroke:#111;stroke-width:0.22px">(n)</text>
<text x="351.3" y="646.2" font-size="8.0" style="stroke:#111;stroke-width:0.22px">(%)</text>
<text x="351.3" y="663.0" font-size="8.0" style="stroke:#111;stroke-width:0.22px">(n)</text>
<text x="351.3" y="678.6" font-size="8.0" style="stroke:#111;stroke-width:0.22px">(%)</text>
</g>
<g id="C">
<text x="116.3" y="714.6" font-size="15.6" font-weight="bold" style="stroke:#111;stroke-width:0.16px" textLength="98.7" lengthAdjust="spacingAndGlyphs">Serum MCP-1</text>
<line x1="51.8" y1="720.9" x2="51.8" y2="856.9" stroke-width="1.8" stroke-linecap="butt"/>
<line x1="51.8" y1="872.2" x2="51.8" y2="881.6" stroke-width="1.8" stroke-linecap="butt"/>
<path d="M46.7,863.8 C47.9,861.4 50.1,862.0 51.8,862.9 S55.7,864.5 56.9,861.9" fill="none" stroke-width="1.7" stroke-linecap="round"/>
<path d="M46.7,867.9 C47.9,865.5 50.1,866.1 51.8,867.0 S55.7,868.6 56.9,866.0" fill="none" stroke-width="1.7" stroke-linecap="round"/>
<line x1="46.0" y1="721.8" x2="51.8" y2="721.8" stroke-width="1.8" stroke-linecap="butt"/>
<text x="44.0" y="725.7" font-size="11.2" font-weight="bold" style="stroke:#111;stroke-width:0.16px" text-anchor="end">10000</text>
<line x1="48.2" y1="749.6" x2="51.8" y2="749.6" stroke-width="1.5" stroke-linecap="butt"/>
<line x1="48.2" y1="742.6" x2="51.8" y2="742.6" stroke-width="1.5" stroke-linecap="butt"/>
<line x1="48.2" y1="737.6" x2="51.8" y2="737.6" stroke-width="1.5" stroke-linecap="butt"/>
<line x1="48.2" y1="733.8" x2="51.8" y2="733.8" stroke-width="1.5" stroke-linecap="butt"/>
<line x1="48.2" y1="730.6" x2="51.8" y2="730.6" stroke-width="1.5" stroke-linecap="butt"/>
<line x1="48.2" y1="728.0" x2="51.8" y2="728.0" stroke-width="1.5" stroke-linecap="butt"/>
<line x1="48.2" y1="725.7" x2="51.8" y2="725.7" stroke-width="1.5" stroke-linecap="butt"/>
<line x1="48.2" y1="723.6" x2="51.8" y2="723.6" stroke-width="1.5" stroke-linecap="butt"/>
<line x1="46.0" y1="761.5" x2="51.8" y2="761.5" stroke-width="1.8" stroke-linecap="butt"/>
<text x="44.0" y="765.4" font-size="11.2" font-weight="bold" style="stroke:#111;stroke-width:0.16px" text-anchor="end">1000</text>
<line x1="48.2" y1="789.3" x2="51.8" y2="789.3" stroke-width="1.5" stroke-linecap="butt"/>
<line x1="48.2" y1="782.3" x2="51.8" y2="782.3" stroke-width="1.5" stroke-linecap="butt"/>
<line x1="48.2" y1="777.4" x2="51.8" y2="777.4" stroke-width="1.5" stroke-linecap="butt"/>
<line x1="48.2" y1="773.5" x2="51.8" y2="773.5" stroke-width="1.5" stroke-linecap="butt"/>
<line x1="48.2" y1="770.4" x2="51.8" y2="770.4" stroke-width="1.5" stroke-linecap="butt"/>
<line x1="48.2" y1="767.7" x2="51.8" y2="767.7" stroke-width="1.5" stroke-linecap="butt"/>
<line x1="48.2" y1="765.4" x2="51.8" y2="765.4" stroke-width="1.5" stroke-linecap="butt"/>
<line x1="48.2" y1="763.4" x2="51.8" y2="763.4" stroke-width="1.5" stroke-linecap="butt"/>
<line x1="46.0" y1="801.3" x2="51.8" y2="801.3" stroke-width="1.8" stroke-linecap="butt"/>
<text x="44.0" y="805.2" font-size="11.2" font-weight="bold" style="stroke:#111;stroke-width:0.16px" text-anchor="end">100</text>
<line x1="48.2" y1="829.1" x2="51.8" y2="829.1" stroke-width="1.5" stroke-linecap="butt"/>
<line x1="48.2" y1="822.1" x2="51.8" y2="822.1" stroke-width="1.5" stroke-linecap="butt"/>
<line x1="48.2" y1="817.1" x2="51.8" y2="817.1" stroke-width="1.5" stroke-linecap="butt"/>
<line x1="48.2" y1="813.3" x2="51.8" y2="813.3" stroke-width="1.5" stroke-linecap="butt"/>
<line x1="48.2" y1="810.1" x2="51.8" y2="810.1" stroke-width="1.5" stroke-linecap="butt"/>
<line x1="48.2" y1="807.5" x2="51.8" y2="807.5" stroke-width="1.5" stroke-linecap="butt"/>
<line x1="48.2" y1="805.2" x2="51.8" y2="805.2" stroke-width="1.5" stroke-linecap="butt"/>
<line x1="48.2" y1="803.1" x2="51.8" y2="803.1" stroke-width="1.5" stroke-linecap="butt"/>
<line x1="46.0" y1="841.0" x2="51.8" y2="841.0" stroke-width="1.8" stroke-linecap="butt"/>
<text x="44.0" y="844.9" font-size="11.2" font-weight="bold" style="stroke:#111;stroke-width:0.16px" text-anchor="end">10</text>
<line x1="48.2" y1="856.9" x2="51.8" y2="856.9" stroke-width="1.5" stroke-linecap="butt"/>
<line x1="48.2" y1="853.0" x2="51.8" y2="853.0" stroke-width="1.5" stroke-linecap="butt"/>
<line x1="48.2" y1="849.9" x2="51.8" y2="849.9" stroke-width="1.5" stroke-linecap="butt"/>
<line x1="48.2" y1="847.2" x2="51.8" y2="847.2" stroke-width="1.5" stroke-linecap="butt"/>
<line x1="48.2" y1="844.9" x2="51.8" y2="844.9" stroke-width="1.5" stroke-linecap="butt"/>
<line x1="48.2" y1="842.9" x2="51.8" y2="842.9" stroke-width="1.5" stroke-linecap="butt"/>
<text x="38.6" y="884.7" font-size="11.2" font-weight="bold" style="stroke:#111;stroke-width:0.16px" text-anchor="end">0</text>
<line x1="50.2" y1="880.8" x2="291.4" y2="880.8" stroke-width="1.8" stroke-linecap="butt"/>
<line x1="59.4" y1="880.8" x2="59.4" y2="885.4" stroke-width="1.7" stroke-linecap="butt"/>
<text x="59.4" y="897.1" font-size="11.3" font-weight="bold" style="stroke:#111;stroke-width:0.16px" text-anchor="middle">3</text>
<line x1="74.4" y1="880.8" x2="74.4" y2="885.4" stroke-width="1.7" stroke-linecap="butt"/>
<text x="74.4" y="897.1" font-size="11.3" font-weight="bold" style="stroke:#111;stroke-width:0.16px" text-anchor="middle">6</text>
<line x1="104.0" y1="880.8" x2="104.0" y2="885.4" stroke-width="1.7" stroke-linecap="butt"/>
<text x="104.0" y="897.1" font-size="11.3" font-weight="bold" style="stroke:#111;stroke-width:0.16px" text-anchor="middle">12</text>
<line x1="134.0" y1="880.8" x2="134.0" y2="885.4" stroke-width="1.7" stroke-linecap="butt"/>
<text x="134.0" y="897.1" font-size="11.3" font-weight="bold" style="stroke:#111;stroke-width:0.16px" text-anchor="middle">18</text>
<line x1="163.7" y1="880.8" x2="163.7" y2="885.4" stroke-width="1.7" stroke-linecap="butt"/>
<text x="163.7" y="897.1" font-size="11.3" font-weight="bold" style="stroke:#111;stroke-width:0.16px" text-anchor="middle">24</text>
<line x1="223.7" y1="880.8" x2="223.7" y2="885.4" stroke-width="1.7" stroke-linecap="butt"/>
<text x="223.7" y="897.1" font-size="11.3" font-weight="bold" style="stroke:#111;stroke-width:0.16px" text-anchor="middle">36</text>
<line x1="283.8" y1="880.8" x2="283.8" y2="885.4" stroke-width="1.7" stroke-linecap="butt"/>
<text x="283.8" y="897.1" font-size="11.3" font-weight="bold" style="stroke:#111;stroke-width:0.16px" text-anchor="middle">48</text>
<text x="16.7" y="801.5" font-size="12.4" font-weight="bold" style="stroke:#111;stroke-width:0.4px" text-anchor="middle" textLength="42.6" lengthAdjust="spacingAndGlyphs" transform="rotate(-90 16.7 801.5)">(pg/ml)</text>
<text x="114.3" y="915.9" font-size="12.6" font-weight="bold" style="stroke:#111;stroke-width:0.16px" textLength="114.5" lengthAdjust="spacingAndGlyphs">Hours after sepsis</text>
<line x1="59.4" y1="787.5" x2="59.4" y2="802.0" stroke-width="2.0" stroke-linecap="butt"/>
<line x1="55.8" y1="802.0" x2="63.0" y2="802.0" stroke-width="2.0" stroke-linecap="butt"/>
<line x1="74.4" y1="771.0" x2="74.4" y2="781.2" stroke-width="2.0" stroke-linecap="butt"/>
<line x1="70.8" y1="781.2" x2="78.0" y2="781.2" stroke-width="2.0" stroke-linecap="butt"/>
<line x1="104.0" y1="772.0" x2="104.0" y2="784.3" stroke-width="2.0" stroke-linecap="butt"/>
<line x1="100.4" y1="784.3" x2="107.6" y2="784.3" stroke-width="2.0" stroke-linecap="butt"/>
<line x1="134.0" y1="787.0" x2="134.0" y2="790.7" stroke-width="2.0" stroke-linecap="butt"/>
<line x1="130.4" y1="790.7" x2="137.6" y2="790.7" stroke-width="2.0" stroke-linecap="butt"/>
<line x1="163.9" y1="799.9" x2="163.9" y2="803.7" stroke-width="2.0" stroke-linecap="butt"/>
<line x1="160.3" y1="803.7" x2="167.5" y2="803.7" stroke-width="2.0" stroke-linecap="butt"/>
<line x1="223.7" y1="795.1" x2="223.7" y2="806.4" stroke-width="2.0" stroke-linecap="butt"/>
<line x1="220.1" y1="806.4" x2="227.3" y2="806.4" stroke-width="2.0" stroke-linecap="butt"/>
<line x1="283.8" y1="793.8" x2="283.8" y2="800.4" stroke-width="2.0" stroke-linecap="butt"/>
<line x1="280.2" y1="800.4" x2="287.4" y2="800.4" stroke-width="2.0" stroke-linecap="butt"/>
<polyline points="53.4,856.8 59.4,787.5 74.4,771.0 104.0,772.0 134.0,787.0 163.9,799.9 223.7,795.1 283.8,793.8" fill="none" stroke-width="1.8" stroke-linejoin="round"/>
<circle cx="59.4" cy="787.5" r="3.15" fill="#fff" stroke-width="2.1"/>
<circle cx="74.4" cy="771.0" r="3.15" fill="#fff" stroke-width="2.1"/>
<circle cx="104.0" cy="772.0" r="3.15" fill="#fff" stroke-width="2.1"/>
<circle cx="134.0" cy="787.0" r="3.15" fill="#fff" stroke-width="2.1"/>
<circle cx="163.9" cy="799.9" r="3.15" fill="#fff" stroke-width="2.1"/>
<circle cx="223.7" cy="795.1" r="3.15" fill="#fff" stroke-width="2.1"/>
<circle cx="283.8" cy="793.8" r="3.15" fill="#fff" stroke-width="2.1"/>
<line x1="59.4" y1="777.0" x2="59.4" y2="765.7" stroke-width="2.1" stroke-linecap="butt"/>
<line x1="55.6" y1="765.7" x2="63.2" y2="765.7" stroke-width="2.1" stroke-linecap="butt"/>
<line x1="74.4" y1="745.2" x2="74.4" y2="734.4" stroke-width="2.1" stroke-linecap="butt"/>
<line x1="70.6" y1="734.4" x2="78.2" y2="734.4" stroke-width="2.1" stroke-linecap="butt"/>
<line x1="104.0" y1="759.0" x2="104.0" y2="753.3" stroke-width="2.1" stroke-linecap="butt"/>
<line x1="100.2" y1="753.3" x2="107.8" y2="753.3" stroke-width="2.1" stroke-linecap="butt"/>
<line x1="134.0" y1="772.5" x2="134.0" y2="761.5" stroke-width="2.1" stroke-linecap="butt"/>
<line x1="130.2" y1="761.5" x2="137.8" y2="761.5" stroke-width="2.1" stroke-linecap="butt"/>
<line x1="163.9" y1="771.8" x2="163.9" y2="761.0" stroke-width="2.1" stroke-linecap="butt"/>
<line x1="160.1" y1="761.0" x2="167.7" y2="761.0" stroke-width="2.1" stroke-linecap="butt"/>
<line x1="223.7" y1="763.5" x2="223.7" y2="756.0" stroke-width="2.1" stroke-linecap="butt"/>
<line x1="219.9" y1="756.0" x2="227.5" y2="756.0" stroke-width="2.1" stroke-linecap="butt"/>
<line x1="283.8" y1="770.6" x2="283.8" y2="759.4" stroke-width="2.1" stroke-linecap="butt"/>
<line x1="280.0" y1="759.4" x2="287.6" y2="759.4" stroke-width="2.1" stroke-linecap="butt"/>
<polyline points="53.4,856.8 59.4,777.0 74.4,745.2 104.0,759.0 134.0,772.5 163.9,771.8 223.7,763.5 283.8,770.6" fill="none" stroke-width="2.6" stroke-linejoin="round"/>
<rect x="56.1" y="773.7" width="6.6" height="6.6" fill="#000" stroke="none"/>
<rect x="71.1" y="741.9" width="6.6" height="6.6" fill="#000" stroke="none"/>
<rect x="100.7" y="755.7" width="6.6" height="6.6" fill="#000" stroke="none"/>
<rect x="130.7" y="769.2" width="6.6" height="6.6" fill="#000" stroke="none"/>
<rect x="160.6" y="768.5" width="6.6" height="6.6" fill="#000" stroke="none"/>
<rect x="220.4" y="760.2" width="6.6" height="6.6" fill="#000" stroke="none"/>
<rect x="280.5" y="767.3" width="6.6" height="6.6" fill="#000" stroke="none"/>
<line x1="194.2" y1="745.5" x2="211.5" y2="745.5" stroke-width="2.6" stroke-linecap="butt"/>
<rect x="199.6" y="742.3" width="6.4" height="6.4" fill="#000" stroke="none"/>
<text x="221.2" y="750.0" font-size="13" style="stroke:#111;stroke-width:0.22px" textLength="62.8" lengthAdjust="spacingAndGlyphs">Aged+CLP</text>
<line x1="194.2" y1="818.8" x2="211.5" y2="818.8" stroke-width="1.8" stroke-linecap="butt"/>
<circle cx="202.8" cy="818.8" r="3.15" fill="#fff" stroke-width="2.1"/>
<text x="221.2" y="823.3" font-size="13" style="stroke:#111;stroke-width:0.22px" textLength="69.4" lengthAdjust="spacingAndGlyphs">Young+CLP</text>
<text x="222.5" y="857.1" font-size="18.2" style="stroke:#111;stroke-width:0.22px" textLength="57.8" lengthAdjust="spacingAndGlyphs">P&lt;0.01</text>
</g>
<g id="D">
<text x="452.5" y="712.4" font-size="15.4" font-weight="bold" style="stroke:#111;stroke-width:0.16px" textLength="44.5" lengthAdjust="spacingAndGlyphs">Serum</text>
<text x="506.0" y="712.4" font-size="15.4" font-weight="bold" style="stroke:#111;stroke-width:0.16px" textLength="32.9" lengthAdjust="spacingAndGlyphs">IL-10</text>
<line x1="384.7" y1="729.0" x2="384.7" y2="859.3" stroke-width="1.8" stroke-linecap="butt"/>
<line x1="384.7" y1="875.2" x2="384.7" y2="881.5" stroke-width="1.8" stroke-linecap="butt"/>
<path d="M379.6,865.9 C380.8,863.5 383.0,864.1 384.7,865.0 S388.6,866.6 389.8,864.0" fill="none" stroke-width="1.7" stroke-linecap="round"/>
<path d="M379.6,870.5 C380.8,868.1 383.0,868.7 384.7,869.6 S388.6,871.2 389.8,868.6" fill="none" stroke-width="1.7" stroke-linecap="round"/>
<line x1="378.9" y1="729.9" x2="384.7" y2="729.9" stroke-width="1.8" stroke-linecap="butt"/>
<text x="377.3" y="733.5" font-size="10.4" font-weight="bold" style="stroke:#111;stroke-width:0.16px" text-anchor="end">1000</text>
<line x1="381.1" y1="765.0" x2="384.7" y2="765.0" stroke-width="1.5" stroke-linecap="butt"/>
<line x1="381.1" y1="756.2" x2="384.7" y2="756.2" stroke-width="1.5" stroke-linecap="butt"/>
<line x1="381.1" y1="749.9" x2="384.7" y2="749.9" stroke-width="1.5" stroke-linecap="butt"/>
<line x1="381.1" y1="745.0" x2="384.7" y2="745.0" stroke-width="1.5" stroke-linecap="butt"/>
<line x1="381.1" y1="741.0" x2="384.7" y2="741.0" stroke-width="1.5" stroke-linecap="butt"/>
<line x1="381.1" y1="737.7" x2="384.7" y2="737.7" stroke-width="1.5" stroke-linecap="butt"/>
<line x1="381.1" y1="734.8" x2="384.7" y2="734.8" stroke-width="1.5" stroke-linecap="butt"/>
<line x1="381.1" y1="732.2" x2="384.7" y2="732.2" stroke-width="1.5" stroke-linecap="butt"/>
<line x1="378.9" y1="780.1" x2="384.7" y2="780.1" stroke-width="1.8" stroke-linecap="butt"/>
<text x="377.3" y="783.7" font-size="10.4" font-weight="bold" style="stroke:#111;stroke-width:0.16px" text-anchor="end">100</text>
<line x1="381.1" y1="815.2" x2="384.7" y2="815.2" stroke-width="1.5" stroke-linecap="butt"/>
<line x1="381.1" y1="806.4" x2="384.7" y2="806.4" stroke-width="1.5" stroke-linecap="butt"/>
<line x1="381.1" y1="800.1" x2="384.7" y2="800.1" stroke-width="1.5" stroke-linecap="butt"/>
<line x1="381.1" y1="795.3" x2="384.7" y2="795.3" stroke-width="1.5" stroke-linecap="butt"/>
<line x1="381.1" y1="791.3" x2="384.7" y2="791.3" stroke-width="1.5" stroke-linecap="butt"/>
<line x1="381.1" y1="787.9" x2="384.7" y2="787.9" stroke-width="1.5" stroke-linecap="butt"/>
<line x1="381.1" y1="785.0" x2="384.7" y2="785.0" stroke-width="1.5" stroke-linecap="butt"/>
<line x1="381.1" y1="782.4" x2="384.7" y2="782.4" stroke-width="1.5" stroke-linecap="butt"/>
<line x1="378.9" y1="830.4" x2="384.7" y2="830.4" stroke-width="1.8" stroke-linecap="butt"/>
<text x="377.3" y="834.0" font-size="10.4" font-weight="bold" style="stroke:#111;stroke-width:0.16px" text-anchor="end">10</text>
<line x1="381.1" y1="856.6" x2="384.7" y2="856.6" stroke-width="1.5" stroke-linecap="butt"/>
<line x1="381.1" y1="850.4" x2="384.7" y2="850.4" stroke-width="1.5" stroke-linecap="butt"/>
<line x1="381.1" y1="845.5" x2="384.7" y2="845.5" stroke-width="1.5" stroke-linecap="butt"/>
<line x1="381.1" y1="841.5" x2="384.7" y2="841.5" stroke-width="1.5" stroke-linecap="butt"/>
<line x1="381.1" y1="838.1" x2="384.7" y2="838.1" stroke-width="1.5" stroke-linecap="butt"/>
<line x1="381.1" y1="835.2" x2="384.7" y2="835.2" stroke-width="1.5" stroke-linecap="butt"/>
<line x1="381.1" y1="832.7" x2="384.7" y2="832.7" stroke-width="1.5" stroke-linecap="butt"/>
<text x="374.5" y="886.0" font-size="10.4" font-weight="bold" style="stroke:#111;stroke-width:0.16px" text-anchor="end">0</text>
<line x1="383.1" y1="880.6" x2="611.4" y2="880.6" stroke-width="1.8" stroke-linecap="butt"/>
<line x1="391.8" y1="880.6" x2="391.8" y2="885.2" stroke-width="1.7" stroke-linecap="butt"/>
<text x="391.8" y="896.3" font-size="11.1" font-weight="bold" style="stroke:#111;stroke-width:0.16px" text-anchor="middle">3</text>
<line x1="405.8" y1="880.6" x2="405.8" y2="885.2" stroke-width="1.7" stroke-linecap="butt"/>
<text x="405.8" y="896.3" font-size="11.1" font-weight="bold" style="stroke:#111;stroke-width:0.16px" text-anchor="middle">6</text>
<line x1="433.9" y1="880.6" x2="433.9" y2="885.2" stroke-width="1.7" stroke-linecap="butt"/>
<text x="433.9" y="896.3" font-size="11.1" font-weight="bold" style="stroke:#111;stroke-width:0.16px" text-anchor="middle">12</text>
<line x1="462.2" y1="880.6" x2="462.2" y2="885.2" stroke-width="1.7" stroke-linecap="butt"/>
<text x="462.2" y="896.3" font-size="11.1" font-weight="bold" style="stroke:#111;stroke-width:0.16px" text-anchor="middle">18</text>
<line x1="490.3" y1="880.6" x2="490.3" y2="885.2" stroke-width="1.7" stroke-linecap="butt"/>
<text x="490.3" y="896.3" font-size="11.1" font-weight="bold" style="stroke:#111;stroke-width:0.16px" text-anchor="middle">24</text>
<line x1="546.8" y1="880.6" x2="546.8" y2="885.2" stroke-width="1.7" stroke-linecap="butt"/>
<text x="546.8" y="896.3" font-size="11.1" font-weight="bold" style="stroke:#111;stroke-width:0.16px" text-anchor="middle">36</text>
<line x1="603.4" y1="880.6" x2="603.4" y2="885.2" stroke-width="1.7" stroke-linecap="butt"/>
<text x="603.4" y="896.3" font-size="11.1" font-weight="bold" style="stroke:#111;stroke-width:0.16px" text-anchor="middle">48</text>
<text x="353.6" y="805.2" font-size="11.7" font-weight="bold" style="stroke:#111;stroke-width:0.4px" text-anchor="middle" textLength="40.6" lengthAdjust="spacingAndGlyphs" transform="rotate(-90 353.6 805.2)">(pg/ml)</text>
<text x="443.7" y="913.2" font-size="12.6" font-weight="bold" style="stroke:#111;stroke-width:0.16px" textLength="107.9" lengthAdjust="spacingAndGlyphs">Hours after sepsis</text>
<polyline points="387.7,859.3 391.8,813.8 405.8,814.6 433.9,810.4 462.2,824.0 490.3,812.2 546.8,824.0 603.4,822.7" fill="none" stroke-width="1.8" stroke-linejoin="round"/>
<line x1="391.8" y1="766.4" x2="391.8" y2="744.1" stroke-width="2.1" stroke-linecap="butt"/>
<line x1="388.0" y1="744.1" x2="395.6" y2="744.1" stroke-width="2.1" stroke-linecap="butt"/>
<line x1="405.8" y1="807.0" x2="405.8" y2="803.2" stroke-width="2.1" stroke-linecap="butt"/>
<line x1="402.0" y1="803.2" x2="409.6" y2="803.2" stroke-width="2.1" stroke-linecap="butt"/>
<line x1="433.9" y1="795.2" x2="433.9" y2="785.4" stroke-width="2.1" stroke-linecap="butt"/>
<line x1="430.1" y1="785.4" x2="437.7" y2="785.4" stroke-width="2.1" stroke-linecap="butt"/>
<line x1="462.2" y1="797.8" x2="462.2" y2="784.9" stroke-width="2.1" stroke-linecap="butt"/>
<line x1="458.4" y1="784.9" x2="466.0" y2="784.9" stroke-width="2.1" stroke-linecap="butt"/>
<line x1="490.3" y1="797.2" x2="490.3" y2="788.8" stroke-width="2.1" stroke-linecap="butt"/>
<line x1="486.5" y1="788.8" x2="494.1" y2="788.8" stroke-width="2.1" stroke-linecap="butt"/>
<line x1="546.8" y1="793.0" x2="546.8" y2="781.4" stroke-width="2.1" stroke-linecap="butt"/>
<line x1="543.0" y1="781.4" x2="550.6" y2="781.4" stroke-width="2.1" stroke-linecap="butt"/>
<line x1="603.4" y1="797.6" x2="603.4" y2="785.4" stroke-width="2.1" stroke-linecap="butt"/>
<line x1="599.6" y1="785.4" x2="607.2" y2="785.4" stroke-width="2.1" stroke-linecap="butt"/>
<polyline points="387.0,859.3 391.8,766.4 405.8,807.0 433.9,795.2 462.2,797.8 490.3,797.2 546.8,793.0 603.4,797.6" fill="none" stroke-width="2.6" stroke-linejoin="round"/>
<rect x="388.5" y="763.1" width="6.6" height="6.6" fill="#000" stroke="none"/>
<rect x="402.5" y="803.7" width="6.6" height="6.6" fill="#000" stroke="none"/>
<rect x="430.6" y="791.9" width="6.6" height="6.6" fill="#000" stroke="none"/>
<rect x="458.9" y="794.5" width="6.6" height="6.6" fill="#000" stroke="none"/>
<rect x="487.0" y="793.9" width="6.6" height="6.6" fill="#000" stroke="none"/>
<rect x="543.5" y="789.7" width="6.6" height="6.6" fill="#000" stroke="none"/>
<rect x="600.1" y="794.3" width="6.6" height="6.6" fill="#000" stroke="none"/>
<circle cx="391.8" cy="813.8" r="3.15" fill="#fff" stroke-width="2.1"/>
<circle cx="405.8" cy="814.6" r="3.15" fill="#fff" stroke-width="2.1"/>
<circle cx="433.9" cy="810.4" r="3.15" fill="#fff" stroke-width="2.1"/>
<circle cx="462.2" cy="824.0" r="3.15" fill="#fff" stroke-width="2.1"/>
<circle cx="490.3" cy="812.2" r="3.15" fill="#fff" stroke-width="2.1"/>
<circle cx="546.8" cy="824.0" r="3.15" fill="#fff" stroke-width="2.1"/>
<circle cx="603.4" cy="822.7" r="3.15" fill="#fff" stroke-width="2.1"/>
<line x1="540.0" y1="771.5" x2="556.5" y2="771.5" stroke-width="2.6" stroke-linecap="butt"/>
<rect x="545.2" y="768.3" width="6.4" height="6.4" fill="#000" stroke="none"/>
<text x="566.0" y="776.0" font-size="13" style="stroke:#111;stroke-width:0.22px" textLength="59.3" lengthAdjust="spacingAndGlyphs">Aged+CLP</text>
<line x1="540.0" y1="837.7" x2="556.5" y2="837.7" stroke-width="1.8" stroke-linecap="butt"/>
<circle cx="548.4" cy="837.7" r="3.15" fill="#fff" stroke-width="2.1"/>
<text x="566.0" y="842.2" font-size="13" style="stroke:#111;stroke-width:0.22px" textLength="65.9" lengthAdjust="spacingAndGlyphs">Young+CLP</text>
<text x="559.4" y="867.6" font-size="18.2" style="stroke:#111;stroke-width:0.22px" textLength="57.3" lengthAdjust="spacingAndGlyphs">P&lt;0.01</text>
</g>
</svg></body></html>
